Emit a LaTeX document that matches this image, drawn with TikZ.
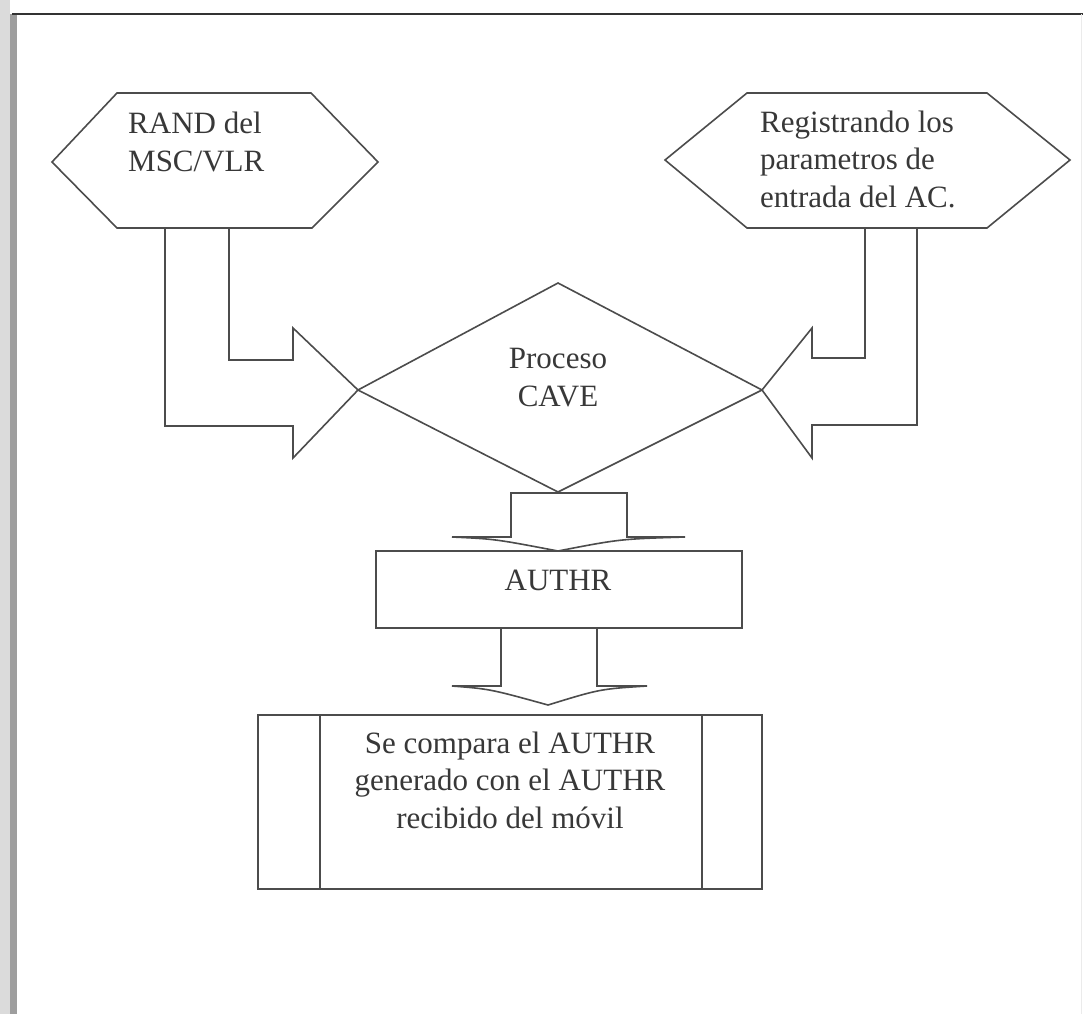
\documentclass[tikz,border=0pt]{standalone}
\usepackage{fontspec}
\setmainfont{Liberation Serif}
\begin{document}
\begin{tikzpicture}[x=1pt,y=-1pt,
  shp/.style={draw=black!70, line width=1.6pt, line join=miter},
  txt/.style={inner sep=0pt, font=\fontsize{31}{37.5}\selectfont, text=black!78}]
\useasboundingbox (0,0) rectangle (1083,1014);
\fill[white] (0,0) rectangle (1083,1014);
% scanned page edge
\fill[black!14] (0,0) rectangle (10,1014);
\fill[black!38] (10,14) rectangle (17,1014);
\draw[black!80, line width=2.6pt] (12,14) -- (1083,14);
\draw[black!8, line width=1pt] (1081,14) -- (1081,1014);

% left hexagon
\coordinate (hl) at (215,162);
\draw[shp] (52,162) -- (117,93) -- (311,93) -- (378,162) -- (312,228) -- (117,228) -- cycle;
\node[txt, anchor=base west, align=left] (rand) at (128,171) {RAND del\\MSC/VLR};

% right hexagon
\coordinate (hr) at (867,160);
\draw[shp] (665,160) -- (747,93) -- (987,93) -- (1070,160) -- (987,228) -- (747,228) -- cycle;
\node[txt, anchor=base west, align=left] (reg) at (760,207) {Registrando los\\parametros de\\entrada del AC.};

% diamond
\coordinate (dL) at (358,390);
\coordinate (dR) at (762,390);
\coordinate (dT) at (558,283);
\coordinate (dB) at (558,492);
\draw[shp] (dL) -- (dT) -- (dR) -- (dB) -- cycle;
\node[txt, anchor=base, align=center] (cave) at (558,406) {Proceso\\CAVE};

% left bent block arrow
\draw[shp] (165,228) -- (165,426) -- (293,426) -- (293,458) -- (dL) -- (293,328) -- (293,360) -- (229,360) -- (229,228);
% right bent block arrow
\draw[shp] (917,228) -- (917,425) -- (812,425) -- (812,458) -- (dR) -- (812,328) -- (812,358) -- (865,358) -- (865,228);

% AUTHR box
\draw[shp] (376,551) rectangle (742,628);
\node[txt, anchor=base] (authr) at (558,590) {AUTHR};

% down arrow 1
\draw[shp] (511,493) -- (511,537) -- (452,537) .. controls (495,539) .. (558,551) .. controls (620,539) .. (685,537) -- (627,537) -- (627,493) -- cycle;

% down arrow 2
\draw[shp] (501,628) -- (501,686) -- (452,686) .. controls (490,689) .. (548,705) .. controls (600,689) .. (647,686) -- (597,686) -- (597,628);

% bottom box
\draw[shp] (258,715) rectangle (762,889);
\draw[shp] (320,715) -- (320,889);
\draw[shp] (702,715) -- (702,889);
\node[txt, anchor=base, align=center] (comp) at (510,828) {Se compara el AUTHR\\generado con el AUTHR\\recibido del móvil};
\end{tikzpicture}
\end{document}
